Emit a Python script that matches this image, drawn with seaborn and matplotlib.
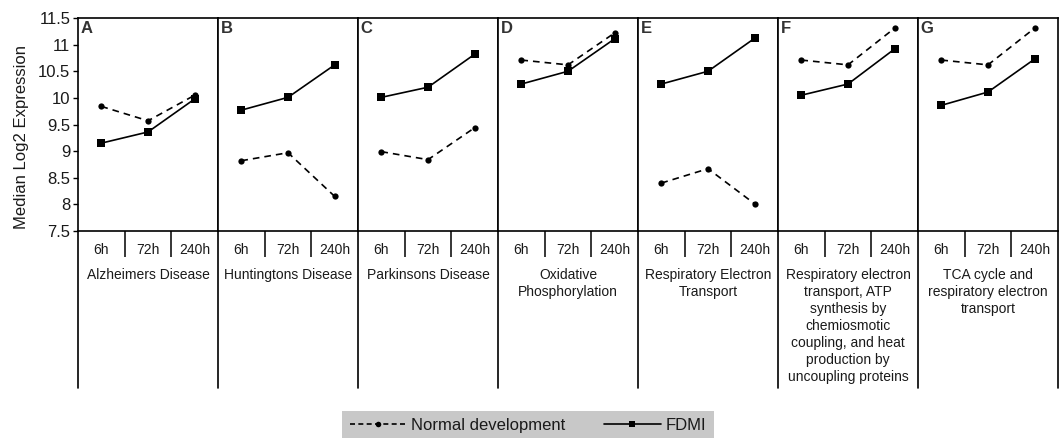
import matplotlib
matplotlib.use("Agg")
import matplotlib.pyplot as plt
import matplotlib.ticker as mticker
from matplotlib.lines import Line2D
import seaborn as sns
import pandas as pd

# ---------------- data ----------------
time_labels = ["6h", "72h", "240h"]
letters = ["A", "B", "C", "D", "E", "F", "G"]
groups = [
    "Alzheimers Disease",
    "Huntingtons Disease",
    "Parkinsons Disease",
    "Oxidative\nPhosphorylation",
    "Respiratory Electron\nTransport",
    "Respiratory electron\ntransport, ATP\nsynthesis by\nchemiosmotic\ncoupling, and heat\nproduction by\nuncoupling proteins",
    "TCA cycle and\nrespiratory electron\ntransport",
]
normal_dev = [
    [9.84, 9.57, 10.05],
    [8.82, 8.97, 8.15],
    [8.99, 8.84, 9.44],
    [10.71, 10.62, 11.22],
    [8.40, 8.67, 8.01],
    [10.71, 10.62, 11.31],
    [10.71, 10.62, 11.31],
]
fdmi = [
    [9.15, 9.36, 9.98],
    [9.77, 10.01, 10.62],
    [10.01, 10.20, 10.82],
    [10.26, 10.50, 11.11],
    [10.26, 10.50, 11.12],
    [10.05, 10.26, 10.92],
    [9.86, 10.11, 10.73],
]
series_names = ["Normal development", "FDMI"]
y_ticks = [7.5, 8, 8.5, 9, 9.5, 10, 10.5, 11, 11.5]

rows = []
for gi, g in enumerate(letters):
    for ti, t in enumerate(time_labels):
        rows.append({"panel": g, "time": t, "series": series_names[0], "value": normal_dev[gi][ti]})
        rows.append({"panel": g, "time": t, "series": series_names[1], "value": fdmi[gi][ti]})
df = pd.DataFrame(rows)

# ---------------- style ----------------
sns.set_theme(style="white")
plt.rcParams["font.family"] = ["Liberation Sans", "DejaVu Sans"]
text_color = "#1a1a1a"

fig = plt.figure(figsize=(10.63, 4.38), dpi=100)
axes = fig.subplots(1, 7, sharey=True)
fig.subplots_adjust(left=0.0734, right=0.9953, top=0.9589, bottom=0.4726, wspace=0)

H_AX = 213.0  # axes height in px
div_bottom = -(388 - 231) / H_AX

for gi, ax in enumerate(axes):
    sub = df[df["panel"] == letters[gi]]
    sns.lineplot(
        data=sub, x="time", y="value", style="series",
        style_order=series_names,
        markers={"Normal development": "o", "FDMI": "s"},
        dashes={"Normal development": (4, 3), "FDMI": ""},
        color="black", linewidth=1.2, markersize=5.5,
        markeredgecolor="black", markeredgewidth=0,
        estimator=None, ax=ax, legend=False, sort=False,
    )
    for ln in ax.get_lines():
        if ln.get_marker() == "o":
            ln.set_markersize(4.5)
    ax.set_xlim(-0.5, 2.5)
    ax.set_ylim(7.5, 11.5)
    ax.set_xlabel("")
    ax.set_ylabel("")
    for sp in ax.spines.values():
        sp.set_visible(True)
        sp.set_color("black")
        sp.set_linewidth(1.2)
    ax.set_xticks(range(len(time_labels)))
    ax.set_xticklabels(time_labels, fontsize=10, color=text_color)
    ax.tick_params(axis="x", which="major", length=0, pad=8.5)
    ax.set_xticks([0.5, 1.5], minor=True)
    ax.tick_params(axis="x", which="minor", length=19, width=1.1, color="black", direction="out", bottom=True)
    if gi == 0:
        ax.set_yticks(y_ticks)
        ax.yaxis.set_major_formatter(mticker.FormatStrFormatter("%g"))
        ax.tick_params(axis="y", which="major", length=3.5, width=1, color="black",
                       direction="out", left=True, labelsize=12, labelcolor=text_color, pad=2)
    else:
        ax.tick_params(axis="y", which="both", length=0, left=False, labelleft=False)
    ax.text(0.02, 0.985, letters[gi], transform=ax.transAxes, ha="left", va="top",
            fontsize=12, fontweight="bold", color="#333333")
    ax.axvline(-0.5, ymin=div_bottom, ymax=0, color="black", lw=1.2, clip_on=False)
    if gi == len(axes) - 1:
        ax.axvline(2.5, ymin=div_bottom, ymax=0, color="black", lw=1.2, clip_on=False)
    ax.text(1, -(268 - 231) / H_AX, groups[gi], transform=ax.get_xaxis_transform(),
            ha="center", va="top", fontsize=10, color=text_color, linespacing=1.27,
            multialignment="center")

axes[0].set_ylabel("Median Log2 Expression", fontsize=12, color=text_color)
axes[0].yaxis.set_label_coords(-0.35, 0.44)

handles = [
    Line2D([], [], color="black", lw=1.2, dashes=(3, 2), marker="o", markersize=4, markeredgewidth=0),
    Line2D([], [], color="black", lw=1.2, marker="s", markersize=5, markeredgewidth=0),
]
leg = fig.legend(handles, series_names, loc="center", bbox_to_anchor=(0.4967, 0.028),
                 ncol=2, frameon=True, fancybox=False, facecolor="#c8c8c8", edgecolor="none",
                 framealpha=1, fontsize=12, handlelength=3.4, handletextpad=0.3,
                 columnspacing=2.3, borderpad=0.45, borderaxespad=0)
for t in leg.get_texts():
    t.set_color(text_color)

fig.savefig("out.png", dpi=100)
